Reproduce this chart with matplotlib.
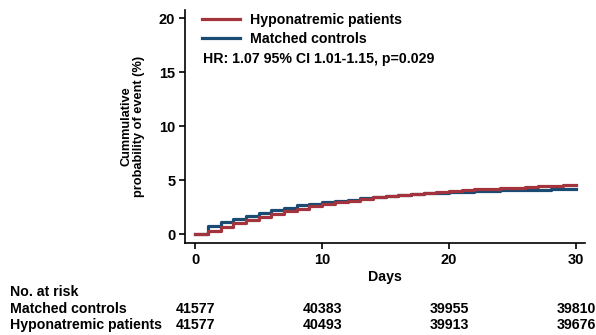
import matplotlib.pyplot as plt
import numpy as np

plt.rcParams['font.family'] = ['Liberation Sans', 'DejaVu Sans']
plt.rcParams['font.weight'] = 'bold'
plt.rcParams['font.size'] = 10

days = list(range(0, 31))
controls = [0, 0.74, 1.14, 1.42, 1.70, 1.98, 2.22, 2.44, 2.65, 2.80, 2.93,
            3.05, 3.18, 3.30, 3.40, 3.52, 3.60, 3.70, 3.77, 3.83, 3.89,
            3.92, 3.98, 4.01, 4.04, 4.07, 4.08, 4.10, 4.13, 4.14, 4.17]
hypo = [0, 0.28, 0.68, 0.99, 1.30, 1.60, 1.88, 2.13, 2.35, 2.56, 2.75,
        2.93, 3.09, 3.24, 3.40, 3.52, 3.64, 3.73, 3.83, 3.92, 3.98,
        4.07, 4.14, 4.20, 4.23, 4.29, 4.35, 4.41, 4.47, 4.50, 4.54]

risk_days = [0, 10, 20, 30]
risk_controls = [41577, 40383, 39955, 39810]
risk_hypo = [41577, 40493, 39913, 39676]

red = '#a3333d'
blue = '#1a4b73'
fs = 10.2

fig = plt.figure(figsize=(5.96, 3.35), dpi=100)
ax = fig.add_axes([0.3104, 0.2746, 0.671, 0.6955])

x = np.array(days, dtype=float)
l_c, = ax.step(x, controls, where='post', color=blue, lw=2.3)
l_h, = ax.step(x, hypo, where='post', color=red, lw=2.3)

ax.set_xlim(-0.8, 30.7)
ax.set_ylim(-0.83, 20.74)
ax.set_xticks([0, 10, 20, 30])
ax.set_yticks([0, 5, 10, 15, 20])
ax.spines['top'].set_visible(False)
ax.spines['right'].set_visible(False)
for s in ['left', 'bottom']:
    ax.spines[s].set_linewidth(1.2)
ax.tick_params(direction='out', length=4, width=1.2, labelsize=10.5, pad=3)
ax.set_xlabel('Days', fontweight='bold', fontsize=fs, labelpad=2)
ax.set_ylabel('Cummulative\nprobability of event (%)', fontweight='bold',
              fontsize=9.2, labelpad=10, linespacing=1.05)

ax.legend([l_h, l_c], ['Hyponatremic patients', 'Matched controls'],
          loc='upper left', bbox_to_anchor=(0.0425, 0.987), frameon=False,
          fontsize=fs, handlelength=2.7, handletextpad=0.7, labelspacing=0.35,
          borderaxespad=0, borderpad=0)
ax.text(0.045, 0.79, 'HR: 1.07 95% CI 1.01-1.15, p=0.029', transform=ax.transAxes,
        fontsize=fs, fontweight='bold', va='center')

# number at risk table
trans = ax.get_xaxis_transform()
fig.text(10 / 596, 1 - 292 / 335, 'No. at risk', fontsize=fs, va='center')
fig.text(10 / 596, 1 - 309 / 335, 'Matched controls', fontsize=fs, va='center')
fig.text(10 / 596, 1 - 325 / 335, 'Hyponatremic patients', fontsize=fs, va='center')
y_c = (1 - 309 / 335 - 0.2746) / 0.6955
y_h = (1 - 325 / 335 - 0.2746) / 0.6955
for d, c, h in zip(risk_days, risk_controls, risk_hypo):
    ax.text(d, y_c, str(c), transform=trans, ha='center', va='center',
            fontsize=fs, clip_on=False)
    ax.text(d, y_h, str(h), transform=trans, ha='center', va='center',
            fontsize=fs, clip_on=False)

fig.savefig('out.png', dpi=100)
